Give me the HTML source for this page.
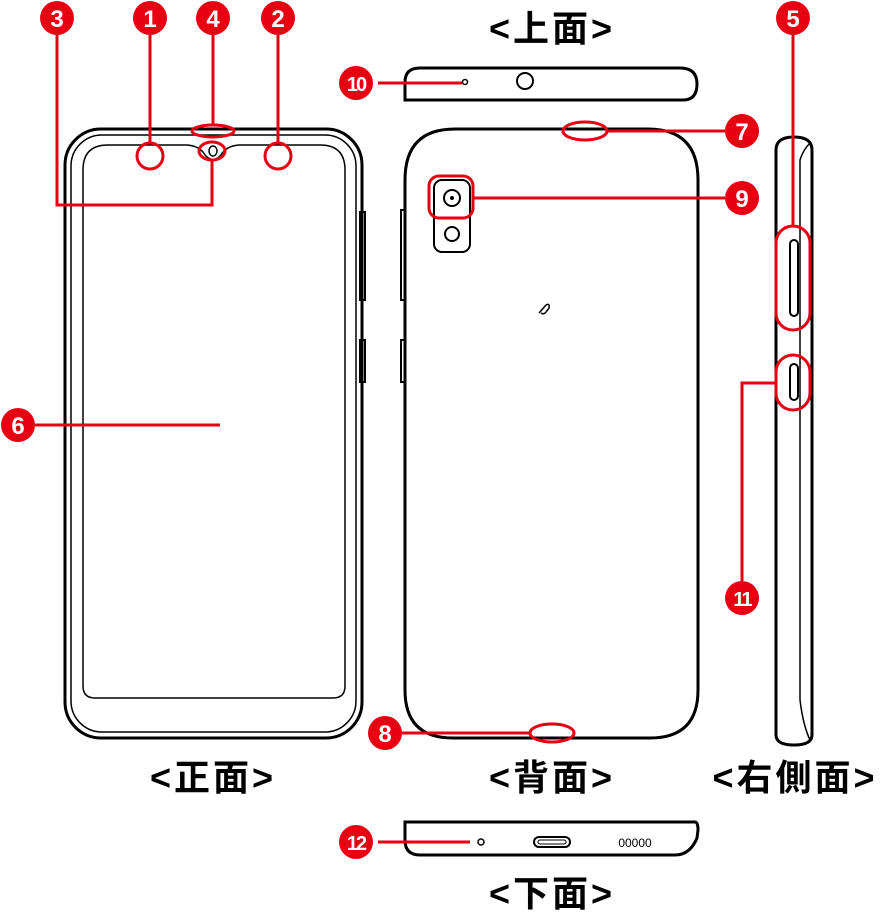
<!DOCTYPE html>
<html><head><meta charset="utf-8"><style>
html,body{margin:0;padding:0;background:#fff}
svg{display:block}
.lb{font-family:"Liberation Sans","Noto Sans CJK JP",sans-serif;font-size:36px;font-weight:bold;text-anchor:middle;letter-spacing:3px}
.n{font-family:"Liberation Sans",sans-serif;font-weight:bold;fill:#fff;text-anchor:middle;font-size:24px}
</style></head><body>
<svg width="881" height="913" viewBox="0 0 881 913" xmlns="http://www.w3.org/2000/svg">
<g fill="none" stroke="#000">
<!-- front -->
<rect x="65" y="129" width="297" height="609" rx="36" stroke-width="3"/>
<rect x="71" y="135" width="285" height="597" rx="31" stroke-width="1.5"/>
<path d="M83 170 Q83 145 108 145 L187 145 Q200 146 205 155 Q213 164 221 155 Q226 146 239 145 L320 145 Q345 145 345 170 L345 686 Q345 698 333 698 L95 698 Q83 698 83 686 Z" stroke-width="1.5"/>
<rect x="360" y="212" width="5" height="88" stroke-width="2"/>
<rect x="360" y="340" width="5" height="42" stroke-width="2"/>
<ellipse cx="213" cy="151" rx="4" ry="5" stroke-width="1.5"/>
<!-- top view -->
<path d="M405 100 L405 82 Q405 68 420 68 L680 68 Q697 68 697 84 Q697 100 683 100 Z" stroke-width="3"/>
<circle cx="465" cy="82" r="2.5" stroke-width="1.5"/>
<circle cx="525" cy="81" r="8" stroke-width="2"/>
<!-- back -->
<path d="M455 129 L648 129 Q698 129 698 180 L698 690 Q698 738 650 738 L453 738 Q405 738 405 690 L405 180 Q405 129 455 129 Z" stroke-width="3"/>
<rect x="401" y="210" width="4" height="90" stroke-width="2"/>
<rect x="401" y="340" width="4" height="42" stroke-width="2"/>
<rect x="434" y="180" width="36" height="72" rx="8" stroke-width="2"/>
<circle cx="452" cy="198" r="8" stroke-width="2"/>
<circle cx="452" cy="198" r="1.5" fill="#000"/>
<circle cx="452" cy="234" r="7" stroke-width="2"/>
<path d="M539 313 L546 305 Q550 303 549 308 L546 312 Q544 315 541 313" stroke-width="1.5"/>
<!-- side -->
<path d="M776 150 Q776 137 794 137 Q812 137 812 150 L812 735 Q812 745 794 745 Q776 745 776 735 Z" stroke-width="3"/>
<path d="M800 198 L800 160 Q803 150 810 143" stroke-width="1.5"/>
<line x1="800" y1="198" x2="800" y2="700" stroke-width="1.5"/>
<path d="M800 700 Q803 725 810 740" stroke-width="1.5"/>
<rect x="790" y="240" width="8" height="76" rx="4" stroke-width="2"/>
<rect x="790" y="364" width="8" height="36" rx="4" stroke-width="2"/>
<!-- bottom -->
<path d="M405 822 L695 822 Q698 822 698 830 L697 838 Q690 855 675 855 L420 855 Q405 855 405 840 Z" stroke-width="3"/>
<circle cx="481" cy="842" r="3" stroke-width="1.5"/>
<rect x="534" y="837" width="36" height="10" rx="5" stroke-width="2"/>
<rect x="538" y="840" width="28" height="4" rx="2" stroke-width="1"/>
</g>
<text x="635" y="847" font-size="12" font-family="Liberation Sans" text-anchor="middle">00000</text>
<!-- red annotations -->
<g fill="none" stroke="#e60012" stroke-width="3">
<polyline points="57,35 57,205 212,205 212,160"/>
<line x1="150" y1="35" x2="150" y2="143"/>
<line x1="213" y1="35" x2="213" y2="125"/>
<line x1="278" y1="35" x2="278" y2="143"/>
<circle cx="150" cy="156" r="13"/>
<circle cx="278" cy="156" r="13"/>
<ellipse cx="213" cy="131" rx="21" ry="6"/>
<ellipse cx="212" cy="151" rx="13" ry="9"/>
<line x1="35" y1="425" x2="220" y2="425"/>
<line x1="378" y1="83" x2="462" y2="83"/>
<ellipse cx="585" cy="131" rx="22" ry="9"/>
<line x1="607" y1="131" x2="725" y2="131"/>
<rect x="429" y="176" width="44" height="42" rx="10"/>
<line x1="473" y1="198" x2="725" y2="198"/>
<ellipse cx="552" cy="733" rx="22" ry="9"/>
<line x1="402" y1="733" x2="530" y2="733"/>
<line x1="793" y1="35" x2="793" y2="226"/>
<rect x="776" y="226" width="34" height="104" rx="17"/>
<rect x="776" y="355" width="34" height="55" rx="17"/>
<polyline points="776,383 742,383 742,581"/>
<line x1="378" y1="842" x2="470" y2="842"/>
</g>
<g fill="#e60012">
<circle cx="57" cy="18" r="17"/><circle cx="150" cy="18" r="17"/><circle cx="213" cy="18" r="17"/><circle cx="278" cy="18" r="17"/>
<circle cx="356" cy="83" r="17"/><circle cx="742" cy="131" r="17"/><circle cx="742" cy="198" r="17"/><circle cx="793" cy="18" r="17"/>
<circle cx="18" cy="425" r="17"/><circle cx="385" cy="733" r="17"/><circle cx="742" cy="598" r="17"/><circle cx="356" cy="842" r="17"/>
</g>
<g class="n">
<text x="57" y="27">3</text><text x="150" y="27">1</text><text x="213" y="27">4</text><text x="278" y="27">2</text>
<text x="356" y="91" font-size="20" letter-spacing="-2">10</text><text x="742" y="140">7</text><text x="742" y="207">9</text><text x="793" y="27">5</text>
<text x="18" y="434">6</text><text x="385" y="742">8</text><text x="742" y="606" font-size="20" letter-spacing="-2">11</text><text x="356" y="850" font-size="20" letter-spacing="-2">12</text>
</g>
<text class="lb" x="552" y="41">&lt;上面&gt;</text>
<text class="lb" x="213" y="790">&lt;正面&gt;</text>
<text class="lb" x="552" y="790">&lt;背面&gt;</text>
<text class="lb" x="795" y="790">&lt;右側面&gt;</text>
<text class="lb" x="552" y="906">&lt;下面&gt;</text>
</svg>
</body></html>
